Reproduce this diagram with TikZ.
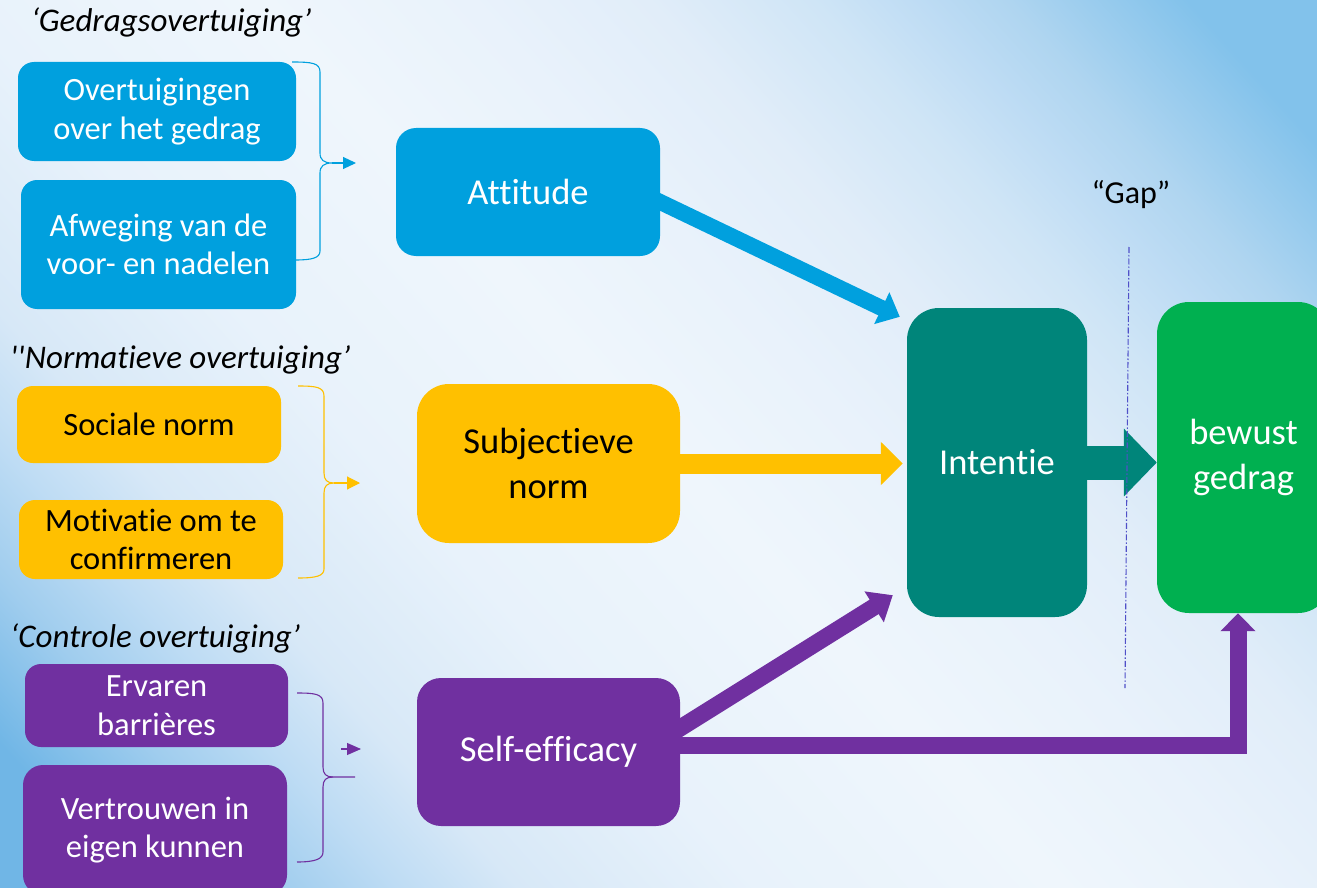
\documentclass[tikz,border=0pt]{standalone}
\usepackage{fontspec}
\setmainfont{Carlito}[Ligatures=NoCommon]
\usepackage{color}
\definecolor{myblue}{RGB}{0,160,222}
\definecolor{myyellow}{RGB}{255,192,0}
\definecolor{mypurple}{RGB}{112,48,160}
\definecolor{myteal}{RGB}{0,133,122}
\definecolor{mygreen}{RGB}{0,176,80}
\definecolor{mygap}{RGB}{80,80,200}
\definecolor{bga}{RGB}{112,182,230}
\definecolor{bgb}{RGB}{160,205,238}
\definecolor{bgc}{RGB}{190,220,244}
\definecolor{bgd}{RGB}{215,232,247}
\definecolor{bge}{RGB}{232,242,251}
\definecolor{bgwhite}{RGB}{239,246,252}
\definecolor{bgf}{RGB}{233,242,251}
\definecolor{bgg}{RGB}{225,237,249}
\definecolor{bgh}{RGB}{207,229,246}
\definecolor{bgi}{RGB}{190,220,244}
\definecolor{bgj}{RGB}{175,213,240}
\definecolor{bgk}{RGB}{130,194,235}
\usepackage{tikz}
\usetikzlibrary{calc,arrows.meta,positioning}
\pgfdeclarelayer{bg}
\pgfdeclarelayer{arrowlayer}
\pgfsetlayers{bg,arrowlayer,main}
\pgfdeclarehorizontalshading{bgshade}{100bp}{color(0bp)=(bga); color(19bp)=(bga); color(24bp)=(bgb); color(28bp)=(bgc); color(32bp)=(bgd); color(40bp)=(bge); color(50bp)=(bgwhite); color(57bp)=(bgf); color(63bp)=(bgg); color(68.5bp)=(bgh); color(72bp)=(bgi); color(75bp)=(bgj); color(81bp)=(bgk); color(100bp)=(bgk)}
\tikzstyle{box}=[rounded corners=16pt,inner sep=0pt,align=center,text=white,font=\fontsize{32.5}{38.5}\selectfont]
\tikzstyle{bigbox}=[box,font=\fontsize{36.5}{45}\selectfont]
\tikzstyle{title}=[anchor=west,inner sep=0pt,font=\fontsize{33}{36}\selectfont\itshape]
\tikzstyle{brace}=[line width=1.1pt]
\tikzstyle{bigarrow}=[line width=17pt]

\begin{document}
\begin{tikzpicture}[x=1pt,y=-1pt]
\useasboundingbox (0,0) rectangle (1317,888);
\begin{pgfonlayer}{bg}
\fill [shading=bgshade,shading angle=42] (0,0) rectangle (1317,888);
\end{pgfonlayer}

\node [title] (t1) at (31,22) {‘Gedragsovertuiging’};
\node [box,fill=myblue,minimum width=278pt,minimum height=99pt] (a1) at (157,111.5) {Overtuigingen\\over het gedrag};
\node [box,fill=myblue,minimum width=275pt,minimum height=129pt] (a2) at (158.5,244.5) {Afweging van de\\voor- en nadelen};
\node [bigbox,fill=myblue,minimum width=264pt,minimum height=128pt,rounded corners=20pt] (att) at (528,192) {Attitude};

\node [title] (t2) at (10,360) {\textquotesingle\textquotesingle Normatieve overtuiging’};
\node [box,fill=myyellow,text=black,minimum width=264pt,minimum height=77pt] (n1) at (149,424.5) {Sociale norm};
\node [box,fill=myyellow,text=black,minimum width=264pt,minimum height=79pt] (n2) at (151,539.5) {Motivatie om te\\confirmeren};
\node [bigbox,fill=myyellow,text=black,minimum width=263pt,minimum height=159pt,rounded corners=32pt] (subj) at (548.5,463.5) {Subjectieve\\norm};

\node [bigbox,fill=myteal,minimum width=180pt,minimum height=309pt,rounded corners=32pt] (int) at (997,462.5) {Intentie};
\node [bigbox,fill=mygreen,minimum width=173pt,minimum height=311pt,rounded corners=32pt] (ged) at (1243.5,457.5) {bewust\\gedrag};

\node [title] (t3) at (10,638) {‘Controle overtuiging’};
\node [box,fill=mypurple,minimum width=263pt,minimum height=83pt] (c1) at (156.5,705.5) {Ervaren\\barrières};
\node [box,fill=mypurple,minimum width=264pt,minimum height=130pt,rounded corners=20pt] (c2) at (155,830) {Vertrouwen in\\eigen kunnen};
\node [bigbox,fill=mypurple,minimum width=263pt,minimum height=148pt,rounded corners=24pt] (self) at (548.5,752) {Self-efficacy};

\node [font=\fontsize{32}{34}\selectfont] (gap) at (1131,195) {“Gap”};

\begin{pgfonlayer}{arrowlayer}
\draw [bigarrow,myblue,line width=16pt,-{Triangle[width=34pt,length=20pt]},shorten <=-20pt] ($(att.east)+(0,10)$) -- ($(int.north west)+(-7,9)$);
\draw [bigarrow,myyellow,line width=20pt,-{Triangle[width=42pt,length=22pt]},shorten >=4pt] (subj.east) -- (subj.east -| int.west);
\draw [bigarrow,myteal,line width=34pt,-{Triangle[width=66pt,length=33pt]}] (int.east) -- (int.east -| ged.west);
\draw [bigarrow,mypurple,-{Triangle[width=35pt,length=22pt]},shorten <=-20pt] ($(self.east)+(0,-24)$) -- ($(int.south west)+(-14,-22)$);
\draw [bigarrow,mypurple,-{Triangle[width=34pt,length=18pt]},shorten <=-20pt] ($(self.east)+(0,-6.5)$) -| ($(ged.south)+(-5.5,0)$);
\end{pgfonlayer}

\coordinate (bt1) at (332,163);
\coordinate (ba1) at (356,163);
\draw [brace,myblue] (292,62) .. controls (312,62) and (320,63) .. (320,72) -- (320,153) .. controls (320,160) and (324,163) .. (bt1) .. controls (324,163) and (320,166) .. (320,173) -- (320,251) .. controls (320,258) and (312,260) .. (295,260);
\draw [brace,myblue,-{Triangle[width=12pt,length=13pt]}] (bt1) -- (ba1);

\coordinate (bt2) at (334,483);
\coordinate (ba2) at (360,483);
\draw [brace,myyellow] (298,386) .. controls (316,386) and (324,387) .. (324,396) -- (324,473) .. controls (324,480) and (327,483) .. (bt2) .. controls (327,483) and (324,486) .. (324,493) -- (324,569) .. controls (324,576) and (316,578) .. (298,578);
\draw [brace,myyellow,-{Triangle[width=13pt,length=13pt]}] (bt2) -- (ba2);

\coordinate (bt3) at (355,777);
\coordinate (bs3) at (341,749);
\coordinate (ba3) at (361,749);
\draw [brace,mypurple] (297,693) .. controls (315,693) and (323,694) .. (323,703) -- (323,767) .. controls (323,774) and (326,777) .. (333,777) -- (bt3);
\draw [brace,mypurple] (333,777) .. controls (326,777) and (323,780) .. (323,787) -- (323,852) .. controls (323,859) and (315,862) .. (297,862);
\draw [brace,mypurple,-{Triangle[width=12pt,length=14pt]}] (bs3) -- (ba3);

\coordinate (gtop) at (1129,247);
\coordinate (gbot) at (1125,688);
\draw [mygap,line width=1.1pt,dash pattern=on 6pt off 2pt on 1.5pt off 2pt] (gtop) -- (gbot);
\end{tikzpicture}
\end{document}
